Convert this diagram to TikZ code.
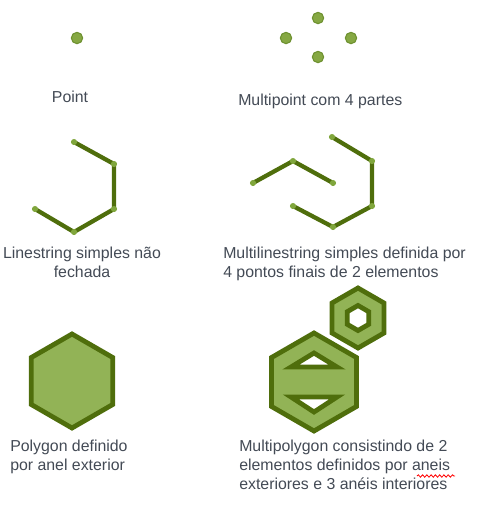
\documentclass[tikz,border=0pt]{standalone}
\usepackage{fontspec}
\setmainfont{Liberation Sans}
\usetikzlibrary{calc,decorations.pathmorphing}

\definecolor{geoline}{HTML}{4F6E0C}
\definecolor{geofill}{HTML}{92B356}
\definecolor{geovertex}{HTML}{80A63C}
\definecolor{geopoint}{HTML}{86A843}
\definecolor{geopointedge}{HTML}{6E9130}
\definecolor{captext}{HTML}{434A55}

\tikzset{
  ptdot/.style={circle, fill=geopoint, draw=geopointedge, line width=0.8pt,
                inner sep=0pt, minimum size=8.5pt},
  vtx/.style={circle, fill=geovertex, inner sep=0pt, minimum size=4.6pt},
  lstring/.style={draw=geoline, line width=3.2pt, line join=round},
  polyshape/.style={draw=geoline, fill=geofill, line width=3.6pt, line join=miter},
  caption/.style={text=captext, font=\fontsize{11.9}{13.9}\selectfont, inner sep=0pt},
}

\begin{document}
\begin{tikzpicture}[x=0.75pt, y=-0.75pt]
  \useasboundingbox (0,0) rectangle (482,512);

  % --- single point
  \node[ptdot] (p) at (77,38) {};
  \node[caption, anchor=base] (pcap) at (70,102) {Point};

  % --- multipoint
  \node[ptdot] (mp1) at (318,18) {};
  \node[ptdot] (mp2) at (286,38) {};
  \node[ptdot] (mp3) at (351,38) {};
  \node[ptdot] (mp4) at (318,57) {};
  \node[caption, anchor=base west] (mpcap) at (238,105) {Multipoint com 4 partes};

  % --- open linestring
  \coordinate (l1) at (74,142);
  \coordinate (l2) at (114,164);
  \coordinate (l3) at (114,209);
  \coordinate (l4) at (74,232);
  \coordinate (l5) at (35,209);
  \draw[lstring] (l1) -- (l2) -- (l3) -- (l4) -- (l5);
  \foreach \v in {l1,l2,l3,l4,l5} \node[vtx] at (\v) {};
  % captions below are anchored at the baseline of their last line
  \node[caption, anchor=base, align=center] (lcap) at (82,277)
    {Linestring simples não\\fechada};

  % --- multilinestring, two parts
  \coordinate (ma1) at (253,183);
  \coordinate (ma2) at (293,161);
  \coordinate (ma3) at (333,183);
  \coordinate (mb1) at (332,137);
  \coordinate (mb2) at (372,161);
  \coordinate (mb3) at (372,206);
  \coordinate (mb4) at (333,227);
  \coordinate (mb5) at (293,206);
  \draw[lstring] (ma1) -- (ma2) -- (ma3);
  \draw[lstring] (mb1) -- (mb2) -- (mb3) -- (mb4) -- (mb5);
  \foreach \v in {ma1,ma2,ma3,mb1,mb2,mb3,mb4,mb5} \node[vtx] at (\v) {};
  \node[caption, anchor=base west, align=left] (mlcap) at (223,277)
    {Multilinestring simples definida por\\4 pontos finais de 2 elementos};

  % --- polygon with one exterior ring
  \coordinate (pc) at (72,381);
  \draw[polyshape] ($(pc)+(90:47)$) \foreach \a in {30,-30,-90,-150,150} { -- ($(pc)+(\a:47)$) } -- cycle;
  \node[caption, anchor=base west, align=left] (pgcap) at (10,470)
    {Polygon definido\\por anel exterior};

  % --- multipolygon: large hexagon with two triangular holes, small hexagon with a hexagonal hole
  \coordinate (bc) at (314,382);
  \coordinate (sc) at (358,318);
  \draw[polyshape, even odd rule]
    ($(bc)+(90:49)$) \foreach \a in {30,-30,-90,-150,150} { -- ($(bc)+(\a:49)$) } -- cycle
    (314,353) -- (337,367) -- (291,367) -- cycle
    (291,397) -- (337,397) -- (314,412) -- cycle;
  \draw[polyshape, even odd rule]
    ($(sc)+(90:30)$) \foreach \a in {30,-30,-90,-150,150} { -- ($(sc)+(\a:30)$) } -- cycle
    ($(sc)+(90:12.5)$) \foreach \a in {30,-30,-90,-150,150} { -- ($(sc)+(\a:12.5)$) } -- cycle;
  \node[caption, anchor=base west, align=left] (mpgcap) at (239,489)
    {Multipolygon consistindo de 2\\elementos definidos por aneis\\exteriores e 3 anéis interiores};

  % spell-check squiggle under "aneis"
  \coordinate (sq1) at (417,476);
  \coordinate (sq2) at (455,476);
  \draw[red, line width=0.6pt, decorate,
        decoration={snake, amplitude=0.9pt, segment length=3.2pt}] (sq1) -- (sq2);
\end{tikzpicture}
\end{document}
